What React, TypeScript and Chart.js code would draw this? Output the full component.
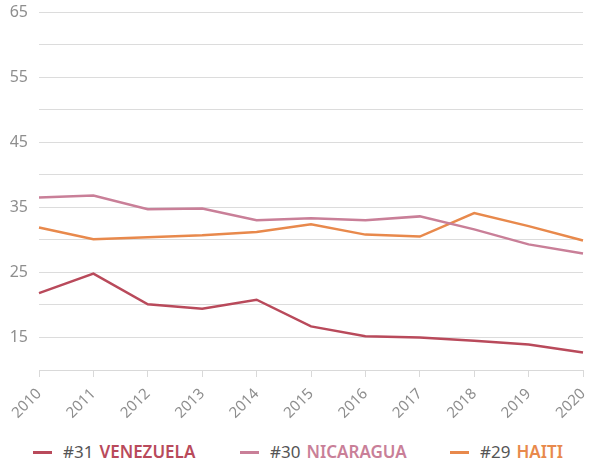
import React, { useEffect, useRef } from "react";
import { Chart, registerables } from "chart.js";

Chart.register(...registerables);

const years = ["2010", "2011", "2012", "2013", "2014", "2015", "2016", "2017", "2018", "2019", "2020"];
const venezuela = [21.8, 24.8, 20.1, 19.4, 20.8, 16.7, 15.2, 15.0, 14.5, 13.9, 12.7];
const nicaragua = [36.5, 36.8, 34.7, 34.8, 33.0, 33.3, 33.0, 33.6, 31.6, 29.3, 27.9];
const haiti = [31.9, 30.1, 30.4, 30.7, 31.2, 32.4, 30.8, 30.5, 34.1, 32.1, 29.9];

const seriesNames = ["VENEZUELA", "NICARAGUA", "HAITI"];
const seriesRanks = ["#31", "#30", "#29"];
const seriesColors = ["#b94a5b", "#c97f98", "#e8894c"];
const seriesData = [venezuela, nicaragua, haiti];
const legendLeft = [33, 240, 450];

const FONT = "'Noto Sans', 'Open Sans', sans-serif";

export default function App() {
  const ref = useRef<HTMLCanvasElement | null>(null);
  useEffect(() => {
    if (!ref.current) return;
    const chart = new Chart(ref.current, {
      type: "line",
      data: {
        labels: years,
        datasets: seriesData.map((d, i) => ({
          label: seriesNames[i],
          data: d,
          borderColor: seriesColors[i],
          backgroundColor: seriesColors[i],
          borderWidth: 2.5,
          pointRadius: 0,
          tension: 0,
        })),
      },
      options: {
        animation: false,
        responsive: false,
        layout: { padding: { top: 12, left: 0, right: 0, bottom: 0 } },
        plugins: { legend: { display: false }, tooltip: { enabled: false } },
        scales: {
          x: {
            offset: false,
            grid: { drawOnChartArea: false, drawTicks: true, tickLength: 7, color: "#d9d9d9" },
            border: { display: true, color: "#d9d9d9" },
            ticks: {
              minRotation: 45,
              maxRotation: 45,
              color: "#8e8e8e",
              font: { family: FONT, size: 15 },
              padding: 8,
            },
            afterFit: (s: any) => {
              s.paddingLeft = 0;
              s.paddingRight = 6;
              s.height = 58;
            },
          },
          y: {
            min: 10,
            max: 65,
            grid: {
              color: (ctx: any) => (ctx.tick && ctx.tick.value === 10 ? "rgba(0,0,0,0)" : "#dcdcdc"),
              drawTicks: false,
            },
            border: { display: false },
            ticks: {
              stepSize: 5,
              padding: 11,
              color: "#8e8e8e",
              font: { family: FONT, size: 16 },
              callback: (v: any) => ((Number(v) - 15) % 10 === 0 ? String(v) : ""),
            },
            afterFit: (s: any) => {
              s.width = 31;
              s.paddingTop = 0;
              s.paddingBottom = 0;
            },
          },
        },
      },
    });
    return () => chart.destroy();
  }, []);

  return (
    <div style={{ position: "absolute", left: 0, top: 0, width: 597, height: 468, fontFamily: FONT }}>
      <canvas ref={ref} width={581} height={428} style={{ position: "absolute", left: 8, top: 0, display: "block" }} />
      {seriesNames.map((n, i) => (
        <div
          key={n}
          style={{
            position: "absolute",
            left: legendLeft[i],
            top: 440,
            fontSize: 17,
            lineHeight: "24px",
            display: "flex",
            alignItems: "center",
            whiteSpace: "nowrap",
          }}
        >
          <span style={{ display: "inline-block", width: 19, height: 3, background: seriesColors[i], marginRight: 11 }} />
          <span style={{ color: "#555", marginRight: 6 }}>{seriesRanks[i]}</span>
          <span style={{ color: seriesColors[i], fontWeight: 600 }}>{n}</span>
        </div>
      ))}
    </div>
  );
}
